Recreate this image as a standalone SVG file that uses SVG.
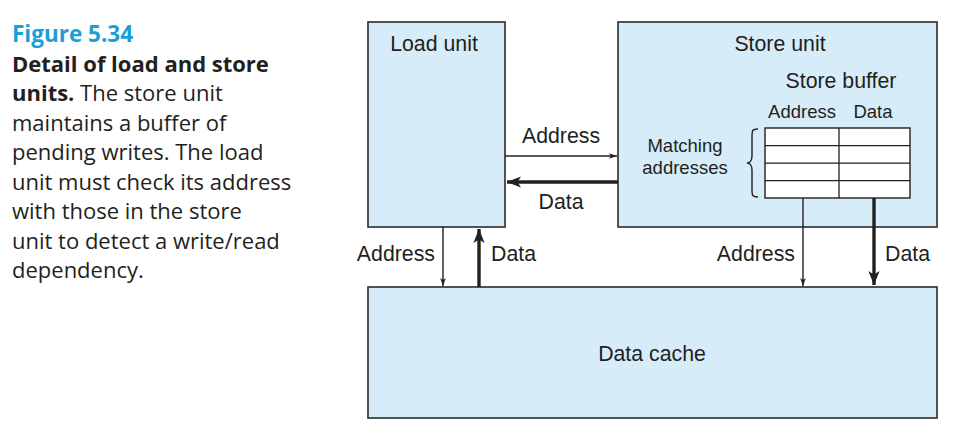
<svg xmlns="http://www.w3.org/2000/svg" width="955" height="435" viewBox="0 0 955 435">
<defs>
<style>
.box{fill:#d6ecf9;stroke:#2b2b2b;stroke-width:1.6}
.t{font-family:"Liberation Sans",Arial,sans-serif;fill:#231f20}
.l{font-size:21.3px}
.s{font-size:18.5px}
.cap{font-family:"Open Sans","Noto Sans",sans-serif;font-size:22px;fill:#231f20}
.thin{stroke:#231f20;stroke-width:1.4;fill:none}
.thick{stroke:#231f20;stroke-width:3.4;fill:none}
.grid{stroke:#231f20;stroke-width:1.3;fill:none}
</style>
<marker id="ah" viewBox="0 0 10 10" refX="10" refY="5" markerWidth="8" markerHeight="8" markerUnits="userSpaceOnUse" orient="auto"><path d="M0,1.5 L10,5 L0,8.5 L2.5,5 Z" fill="#231f20"/></marker>
<marker id="ahb" viewBox="0 0 10 10" refX="10" refY="5" markerWidth="14" markerHeight="14" markerUnits="userSpaceOnUse" orient="auto"><path d="M0,1 L10,5 L0,9 L2.5,5 Z" fill="#231f20"/></marker>
</defs>
<g id="caption">
<text x="12" y="42" style="font-family:'Open Sans','Noto Sans',sans-serif;font-size:22.5px;font-weight:bold;fill:#1b9fd8">Figure 5.34</text>
<text class="cap" x="12" y="72" font-weight="bold">Detail of load and store</text>
<text class="cap" x="12" y="101"><tspan font-weight="bold">units.</tspan> The store unit</text>
<text class="cap" x="12" y="131">maintains a buffer of</text>
<text class="cap" x="12" y="160">pending writes. The load</text>
<text class="cap" x="12" y="190">unit must check its address</text>
<text class="cap" x="12" y="219">with those in the store</text>
<text class="cap" x="12" y="249">unit to detect a write/read</text>
<text class="cap" x="12" y="278">dependency.</text>
</g>
<g id="load-unit">
<rect class="box" x="368" y="22" width="137" height="205"/>
<text class="t l" x="434" y="51" text-anchor="middle">Load unit</text>
</g>
<g id="store-unit">
<rect class="box" x="618" y="22" width="319" height="205"/>
<text class="t l" x="780" y="51" text-anchor="middle">Store unit</text>
</g>
<g id="store-buffer">
<text class="t l" x="841" y="88" text-anchor="middle">Store buffer</text>
<text class="t s" x="802" y="118" text-anchor="middle">Address</text>
<text class="t s" x="873" y="118" text-anchor="middle">Data</text>
<rect x="765" y="128" width="145" height="70" fill="#ffffff" stroke="#231f20" stroke-width="1.4"/>
<path class="grid" d="M839,128 V198 M765,145.7 H910 M765,163.2 H910 M765,180.7 H910"/>
<path class="thin" d="M758,129 C752,129 752,131 752,136 L752,156 C752,160 750,163 747,163 C750,163 752,166 752,170 L752,190 C752,195 752,197 758,197"/>
<text class="t s" x="685" y="152" text-anchor="middle">Matching</text>
<text class="t s" x="685" y="174" text-anchor="middle">addresses</text>
</g>
<g id="data-cache">
<rect class="box" x="368" y="287" width="569" height="131"/>
<text class="t l" x="652" y="361" text-anchor="middle">Data cache</text>
</g>
<g id="connectors">
<line class="thin" x1="505" y1="156" x2="617" y2="156" marker-end="url(#ah)"/>
<line class="thick" x1="618" y1="182" x2="507" y2="182" marker-end="url(#ahb)"/>
<line class="thin" x1="443" y1="227" x2="443" y2="286" marker-end="url(#ah)"/>
<line class="thick" x1="479" y1="287" x2="479" y2="229" marker-end="url(#ahb)"/>
<line class="thin" x1="803" y1="198" x2="803" y2="286" marker-end="url(#ah)"/>
<line class="thick" x1="874" y1="198" x2="874" y2="285" marker-end="url(#ahb)"/>
<text class="t l" x="561" y="143" text-anchor="middle">Address</text>
<text class="t l" x="561" y="209" text-anchor="middle">Data</text>
<text class="t l" x="435" y="261" text-anchor="end">Address</text>
<text class="t l" x="491" y="261">Data</text>
<text class="t l" x="795" y="261" text-anchor="end">Address</text>
<text class="t l" x="885" y="261">Data</text>
</g>
</svg>
